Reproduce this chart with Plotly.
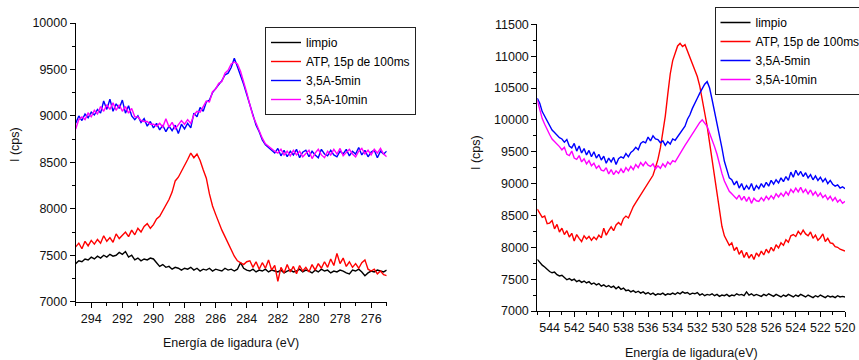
import plotly.graph_objects as go

# ---- C 1s region (left panel) ----
E_C1S = [round(295.0 - 0.2 * i, 1) for i in range(101)]

C1S_LIMPIO = [
    7410, 7440, 7430, 7460, 7450, 7480, 7460, 7490, 7470, 7500,
    7480, 7510, 7490, 7500, 7530, 7510, 7540, 7480, 7500, 7450,
    7470, 7440, 7460, 7450, 7470, 7460, 7420, 7380, 7400, 7370,
    7380, 7350, 7370, 7360, 7340, 7360, 7350, 7370, 7340, 7360,
    7330, 7350, 7340, 7360, 7330, 7350, 7340, 7330, 7360, 7340,
    7350, 7330, 7350, 7420, 7360, 7340, 7330, 7350, 7320, 7340,
    7330, 7350, 7320, 7340, 7330, 7320, 7340, 7310, 7330, 7340,
    7320, 7330, 7350, 7320, 7340, 7330, 7310, 7340, 7320, 7350,
    7330, 7340, 7310, 7330, 7320, 7340, 7330, 7310, 7300, 7340,
    7330, 7350, 7320, 7280, 7310, 7330, 7320, 7340, 7330, 7320,
    7340,
]
C1S_ATP = [
    7590, 7630, 7570, 7650, 7600, 7660, 7620, 7670, 7630, 7710,
    7650, 7690, 7640, 7730, 7680, 7710, 7750, 7700, 7770, 7720,
    7790, 7750, 7810, 7840, 7790, 7830, 7890, 7920, 7980, 8040,
    8100, 8180, 8300, 8340, 8400, 8460, 8530, 8600, 8550, 8590,
    8520, 8420, 8330, 8160, 8030, 7940, 7850, 7770, 7700, 7630,
    7560, 7490, 7440, 7420, 7400, 7430, 7440, 7370, 7430, 7350,
    7420, 7360, 7450, 7340, 7390, 7220, 7370, 7310, 7400, 7320,
    7380, 7300, 7390, 7330, 7370, 7320, 7400, 7340, 7410, 7360,
    7430, 7370, 7460, 7390, 7520, 7410, 7470, 7380, 7430, 7370,
    7410, 7360, 7420, 7450, 7350, 7330, 7350, 7300, 7330, 7290,
    7280,
]
C1S_5MIN = [
    8920, 9000, 8950, 9020, 8980, 9040, 9010, 9070, 9030, 9160,
    9070, 9180, 9050, 9130, 9080, 9170, 9030, 9110, 9000, 8960,
    9000, 8930, 8970, 8890, 8940, 8870, 8920, 8850, 8900, 8830,
    8890, 8840, 8900, 8810, 8910, 8860, 8920, 8870, 9030, 8990,
    9090, 9050, 9150, 9170, 9250, 9290, 9340, 9380, 9440, 9460,
    9520, 9620, 9530, 9440, 9340, 9230, 9110, 9010, 8900, 8830,
    8740, 8690, 8660, 8630, 8600, 8650, 8570, 8630, 8560, 8620,
    8580, 8640, 8550, 8610, 8630, 8560, 8620, 8580, 8550, 8640,
    8590, 8570, 8630, 8580, 8560, 8620, 8590, 8640, 8570, 8620,
    8590, 8660, 8580, 8630, 8560, 8610, 8630, 8550, 8620, 8590,
    8620,
]
C1S_10MIN = [
    8860, 8960, 8990, 8960, 9030, 8990, 9060, 9020, 9100, 9050,
    9120, 9070, 9140, 9060, 9120, 9050, 9100, 9030, 9080, 8990,
    8990, 8950, 8940, 8940, 8910, 8910, 8890, 8920, 8880, 8970,
    8880, 8930, 8860, 8910, 8950, 8910, 8960, 8920, 9010, 9050,
    9040, 9100, 9160, 9150, 9260, 9290, 9350, 9370, 9460, 9490,
    9560, 9580, 9560, 9480, 9370, 9250, 9120, 9000, 8920, 8830,
    8760, 8700, 8670, 8640, 8620, 8600, 8640, 8580, 8620, 8570,
    8630, 8580, 8620, 8560, 8600, 8630, 8540, 8600, 8640, 8580,
    8550, 8620, 8580, 8640, 8590, 8650, 8570, 8610, 8640, 8590,
    8560, 8620, 8650, 8590, 8630, 8580, 8640, 8600, 8650, 8590,
    8560,
]

# ---- O 1s region (right panel) ----
E_O1S = [round(545.0 - 0.2 * i, 1) for i in range(126)]

O1S_LIMPIO = [
    7810, 7760, 7720, 7690, 7650, 7620, 7600, 7610, 7570, 7550,
    7560, 7520, 7490, 7510, 7480, 7500, 7460, 7480, 7450, 7470,
    7440, 7460, 7420, 7440, 7410, 7430, 7390, 7410, 7380, 7400,
    7370, 7390, 7350, 7380, 7340, 7360, 7320, 7330, 7300, 7320,
    7290, 7310, 7280, 7300, 7270, 7290, 7260, 7280, 7250, 7270,
    7260, 7280, 7250, 7270, 7260, 7280, 7260, 7290, 7270, 7300,
    7280, 7290, 7260, 7280, 7270, 7290, 7250, 7270, 7240, 7260,
    7250, 7270, 7240, 7260, 7230, 7250, 7240, 7260, 7230, 7250,
    7240, 7270, 7250, 7260, 7240, 7300, 7250, 7270, 7240, 7260,
    7250, 7230, 7260, 7240, 7270, 7250, 7230, 7260, 7240, 7220,
    7250, 7230, 7260, 7240, 7220, 7250, 7230, 7260, 7240, 7220,
    7250, 7230, 7210, 7240, 7220, 7250, 7230, 7210, 7240, 7220,
    7230, 7210, 7240, 7220, 7230, 7220,
]
O1S_ATP = [
    8600, 8530, 8470, 8490, 8370, 8380, 8420, 8290, 8360, 8240,
    8300, 8200, 8260, 8160, 8220, 8100, 8200, 8140, 8090, 8180,
    8130, 8170, 8110, 8160, 8120, 8190, 8150, 8300, 8190, 8260,
    8320, 8260, 8350, 8390, 8350, 8450, 8490, 8460, 8560, 8640,
    8700, 8760, 8830, 8900, 8940, 9010, 9070, 9130, 9250, 9380,
    9560, 9780, 10060, 10400, 10720, 10930, 11060, 11160, 11200, 11150,
    11180, 11080, 11010, 10900, 10800, 10680, 10530, 10330, 10120, 9900,
    9640, 9380, 9100, 8800, 8540, 8330, 8180, 8110, 8030, 8070,
    7950, 8000, 7890, 7950, 7840, 7920, 7830, 7890, 7810, 7910,
    7860, 7940, 7880, 7970, 7910, 8000, 7940, 8040, 7990, 8070,
    8030, 8120, 8080, 8180, 8200, 8170, 8250, 8200, 8270, 8210,
    8180, 8240, 8140, 8190, 8110, 8150, 8210, 8090, 8140, 8070,
    8060, 8010, 8000, 7970, 7960, 7940,
]
O1S_5MIN = [
    10340, 10260, 10130, 10060, 9980, 9900, 9840, 9800, 9760, 9720,
    9700, 9650, 9690, 9590, 9560, 9630, 9510, 9590, 9480, 9550,
    9450, 9520, 9420, 9500, 9400, 9460, 9370, 9430, 9320, 9400,
    9340, 9410, 9300, 9390, 9420, 9400, 9470, 9420, 9490, 9520,
    9570, 9530, 9630, 9660, 9640, 9730, 9670, 9750, 9700, 9690,
    9640, 9670, 9600, 9660, 9620, 9700, 9680, 9740, 9800, 9860,
    9900, 10010, 10080, 10180, 10250, 10340, 10420, 10490, 10560, 10600,
    10500, 10320, 10140, 9960, 9790, 9560, 9350, 9200, 9090, 9060,
    8980, 9040, 8930, 9000, 8900, 8970, 8910, 9000, 8890, 8970,
    8920, 9000, 8940, 9020, 8960, 9050, 8990, 9060, 9010, 9090,
    9030, 9110, 9050, 9180, 9100, 9210, 9130, 9190, 9110, 9170,
    9090, 9140, 9060, 9120, 9050, 9100, 9030, 9080, 9000, 9050,
    8990, 8960, 8980, 8930, 8950, 8920,
]
O1S_10MIN = [
    10310, 10150, 10020, 9930, 9840, 9770, 9700, 9660, 9630, 9580,
    9530, 9570, 9460, 9440, 9510, 9400, 9380, 9440, 9340, 9390,
    9310, 9360, 9280, 9320, 9240, 9280, 9210, 9200, 9250, 9150,
    9220, 9140, 9200, 9160, 9230, 9170, 9250, 9200, 9270, 9220,
    9300, 9250, 9330, 9280, 9340, 9290, 9270, 9310, 9230, 9280,
    9240, 9310, 9260, 9340, 9300, 9360, 9340, 9410, 9480, 9540,
    9600, 9660, 9720, 9780, 9850, 9900, 9960, 10000, 9950, 9900,
    9790, 9700, 9580, 9460, 9300, 9160, 9040, 8950, 8880, 8840,
    8800, 8760, 8820, 8740, 8800, 8720, 8790, 8690, 8770, 8730,
    8720, 8780, 8730, 8800, 8750, 8810, 8760, 8840, 8790, 8850,
    8800, 8870, 8820, 8910, 8860, 8930, 8870, 8940, 8860, 8910,
    8840, 8900, 8820, 8870, 8800, 8850, 8780, 8820, 8750, 8800,
    8730, 8780, 8710, 8750, 8690, 8720,
]

NAMES = ["limpio", "ATP, 15p de 100ms", "3,5A-5min", "3,5A-10min"]
COLORS = ["#000000", "#ff0000", "#0000ff", "#ff00ff"]

FONT = "Liberation Sans, Arial, sans-serif"
W, H = 859, 360

fig = go.Figure()

for name, color, ys in zip(NAMES, COLORS, [C1S_LIMPIO, C1S_ATP, C1S_5MIN, C1S_10MIN]):
    fig.add_trace(go.Scatter(
        x=E_C1S, y=ys, mode="lines", name=name,
        line=dict(color=color, width=1.4),
        xaxis="x", yaxis="y", legend="legend",
    ))

for name, color, ys in zip(NAMES, COLORS, [O1S_LIMPIO, O1S_ATP, O1S_5MIN, O1S_10MIN]):
    fig.add_trace(go.Scatter(
        x=E_O1S, y=ys, mode="lines", name=name,
        line=dict(color=color, width=1.4),
        xaxis="x2", yaxis="y2", legend="legend2",
    ))


def px_x(p):
    return p / W


def px_y(p):
    return 1 - p / H


axis_common = dict(
    showline=True, linecolor="#000", linewidth=1,
    ticks="outside", ticklen=5, tickwidth=1, tickcolor="#000",
    showgrid=False, zeroline=False, tickformat="d",
    tickfont=dict(family=FONT, size=12.5, color="#111"),
    minor=dict(ticks="outside", ticklen=3, tickwidth=1, tickcolor="#000", showgrid=False),
)

title_font = dict(family=FONT, size=12.5, color="#111")


def label(text, x, y, angle=0):
    return dict(text=text, x=px_x(x), y=px_y(y), xref="paper", yref="paper",
                xanchor="center", yanchor="middle", textangle=angle,
                showarrow=False, font=title_font)


fig.update_layout(
    width=W, height=H,
    margin=dict(l=0, r=0, t=0, b=0, autoexpand=False),
    paper_bgcolor="white", plot_bgcolor="white",
    font=dict(family=FONT, size=12, color="#111"),
    xaxis=dict(domain=[px_x(75.7), px_x(386.7)], range=[295, 275],
               tick0=0, dtick=2, minor_dtick=1, anchor="y", **axis_common),
    yaxis=dict(domain=[px_y(301.7), px_y(23)], range=[7000, 10000],
               tick0=0, dtick=500, minor_dtick=250, anchor="x", **axis_common),
    xaxis2=dict(domain=[px_x(537.3), px_x(845)], range=[545, 520],
                tick0=0, dtick=2, minor_dtick=1, anchor="y2", **axis_common),
    yaxis2=dict(domain=[px_y(311), px_y(24.3)], range=[7000, 11500],
                tick0=0, dtick=500, minor_dtick=250, anchor="x2", **axis_common),
    legend=dict(x=px_x(265), y=px_y(27), xanchor="left", yanchor="top",
                bordercolor="#222", borderwidth=1, bgcolor="white",
                font=dict(family=FONT, size=12, color="#000"),
                tracegroupgap=0, itemwidth=30),
    legend2=dict(x=px_x(714.5), y=px_y(7), xanchor="left", yanchor="top",
                 bordercolor="#222", borderwidth=1, bgcolor="white",
                 font=dict(family=FONT, size=12, color="#000"),
                 tracegroupgap=0, itemwidth=30),
    annotations=[
        label("I (cps)", 15, 145, -90),
        label("I (cps)", 476, 152, -90),
        label("Energía de ligadura (eV)", 231, 343),
        label("Energía de ligadura(eV)", 691.5, 353),
    ],
)

fig.write_html("out.html")
